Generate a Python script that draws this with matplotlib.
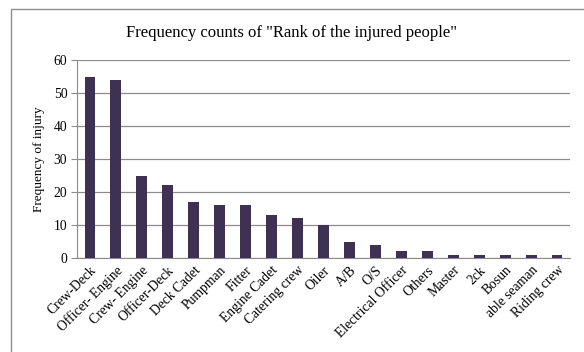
import matplotlib.pyplot as plt
from matplotlib.patches import Rectangle

ranks = ["Crew-Deck", "Officer- Engine", "Crew- Engine", "Officer-Deck", "Deck Cadet",
         "Pumpman", "Fitter", "Engine Cadet", "Catering crew", "Oiler", "A/B", "O/S",
         "Electrical Officer", "Others", "Master", "2ck", "Bosun", "able seaman", "Riding crew"]
counts = [55, 54, 25, 22, 17, 16, 16, 13, 12, 10, 5, 4, 2, 2, 1, 1, 1, 1, 1]
yticks = [0, 10, 20, 30, 40, 50, 60]

plt.rcParams['font.family'] = ['Liberation Serif', 'DejaVu Serif']

fig = plt.figure(figsize=(5.84, 3.52), dpi=100)
# outer chart frame
fig.patches.append(Rectangle((11 / 584, -0.1), 1.2, 1 - 9 / 352 + 0.1, transform=fig.transFigure,
                             fill=False, edgecolor='#8c8c8c', linewidth=1))

ax = fig.add_axes([77 / 584, 1 - 258 / 352, (570 - 77) / 584, (258 - 60) / 352])
x = range(len(ranks))
ax.bar(x, counts, width=0.42, color='#3F3151', zorder=3)
ax.set_xlim(-0.5, len(ranks) - 0.5)
ax.set_ylim(0, 60)
ax.set_yticks(yticks)
ax.yaxis.grid(True, color='#8c8c8c', linewidth=0.9, zorder=0)
for s in ['top', 'right']:
    ax.spines[s].set_visible(False)
for s in ['left', 'bottom']:
    ax.spines[s].set_color('#8c8c8c')
ax.set_xticks(list(x))
ax.set_xticklabels(ranks, rotation=45, ha='right', rotation_mode='anchor', fontsize=9.8)
ax.tick_params(axis='x', length=0, pad=4)
ax.tick_params(axis='y', length=4, color='#8c8c8c', labelsize=9.8, pad=3)
ax.set_ylabel("Frequency of injury", fontsize=9.5, labelpad=6)

fig.text(0.5, 1 - 33 / 352, 'Frequency counts of "Rank of the injured people"',
         ha='center', va='center', fontsize=12)

fig.savefig("out.png", dpi=100)
